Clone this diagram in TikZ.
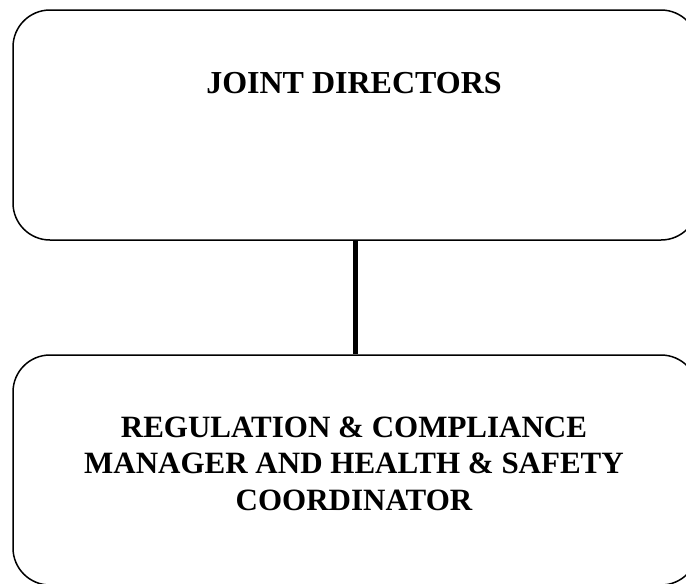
\documentclass[tikz,border=0pt]{standalone}
\usepackage{fontspec}
\setmainfont{Liberation Serif}
\begin{document}
\begin{tikzpicture}[x=1pt,y=-1pt,
  orgbox/.style={draw=black, line width=1.5pt, rounded corners=37pt, minimum width=685pt, minimum height=230pt, inner sep=0pt},
  orgtext/.style={font=\fontsize{32}{36.5}\selectfont\bfseries, align=center, inner sep=0pt},
  link/.style={line width=5pt, draw=black}]
\useasboundingbox (0,0) rectangle (686,584);
\node[orgbox] (top) at (355.5,125) {};
\node[orgbox] (bottom) at (355.5,470) {};
\node[orgtext, anchor=base] (toptext) at (354,93) {JOINT DIRECTORS};
\node[orgtext, font=\fontsize{31}{36.5}\selectfont\bfseries] (bottomtext) at (354,463.5) {REGULATION \& COMPLIANCE\\MANAGER AND HEALTH \& SAFETY\\COORDINATOR};
\draw[link] (top.south) -- (bottom.north);
\end{tikzpicture}
\end{document}
